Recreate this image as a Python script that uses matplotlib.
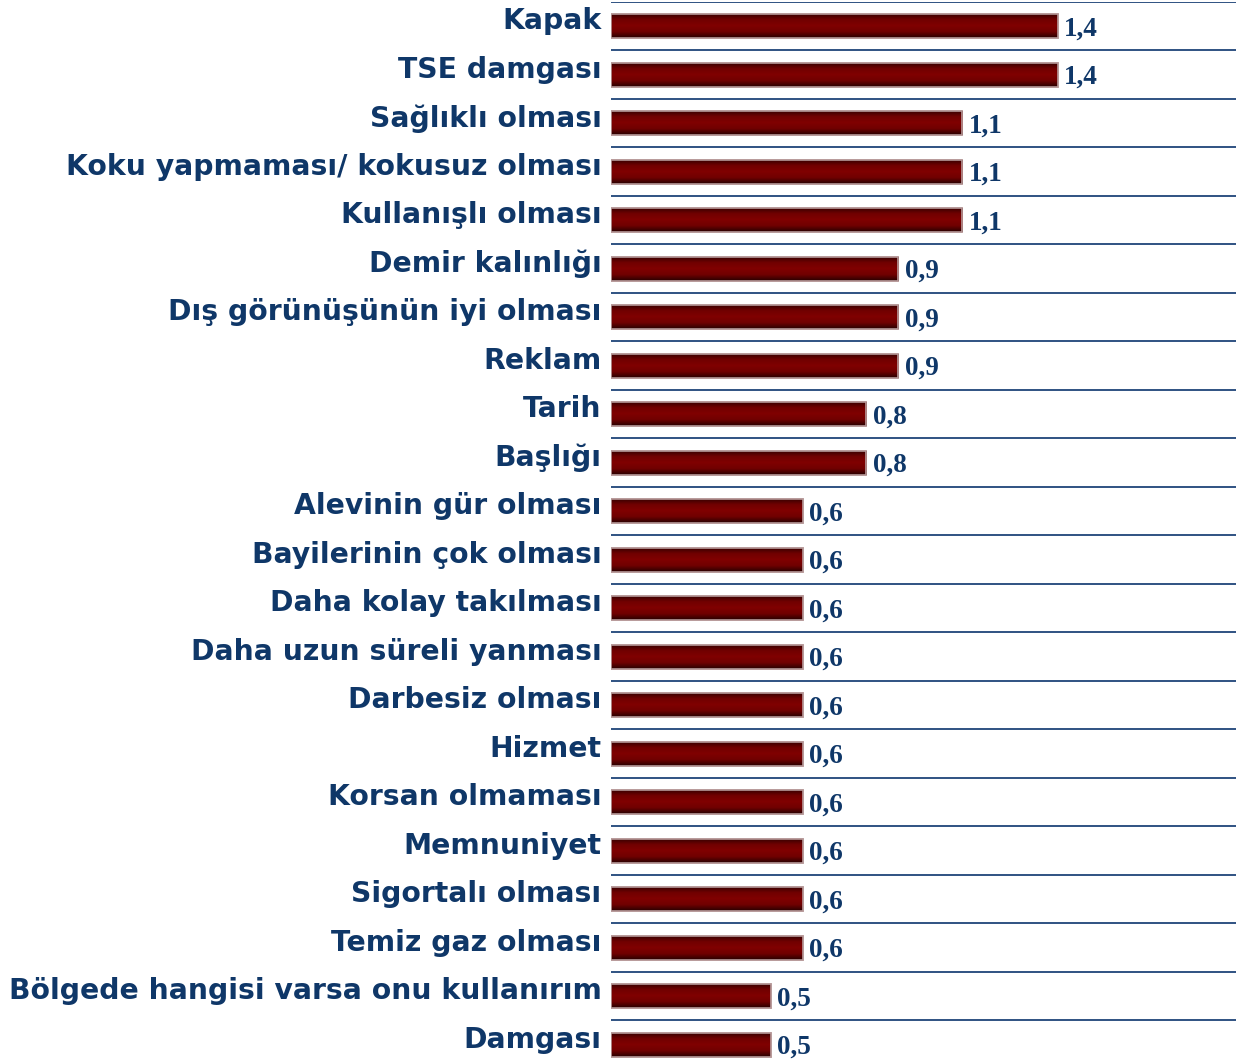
import matplotlib.pyplot as plt
import numpy as np
from matplotlib.colors import LinearSegmentedColormap

labels = ['Kapak', 'TSE damgası', 'Sağlıklı olması', 'Koku yapmaması/ kokusuz olması',
          'Kullanışlı olması', 'Demir kalınlığı', 'Dış görünüşünün iyi olması', 'Reklam',
          'Tarih', 'Başlığı', 'Alevinin gür olması', 'Bayilerinin çok olması',
          'Daha kolay takılması', 'Daha uzun süreli yanması', 'Darbesiz olması', 'Hizmet',
          'Korsan olmaması', 'Memnuniyet', 'Sigortalı olması', 'Temiz gaz olması',
          'Bölgede hangisi varsa onu kullanırım', 'Damgası']
values = [1.4, 1.4, 1.1, 1.1, 1.1, 0.9, 0.9, 0.9, 0.8, 0.8, 0.6, 0.6,
          0.6, 0.6, 0.6, 0.6, 0.6, 0.6, 0.6, 0.6, 0.5, 0.5]

navy = '#0f3768'
W, H = 1236, 1062
fig = plt.figure(figsize=(W / 100, H / 100), dpi=100)
ax = fig.add_axes([611 / W, 0, 625 / W, 1 - 2 / H])

y = np.arange(len(labels))
bars = ax.barh(y, values, height=0.5, color='#800000', edgecolor='#b89a9a', linewidth=1.2, zorder=2)

# vertical gradient in each bar: dark at top and bottom
cmap = LinearSegmentedColormap.from_list('bar', ['#300000', '#700000', '#800000', '#700000', '#280000'])
grad = np.linspace(0, 1, 64).reshape(-1, 1)
for b in bars:
    x0, y0, w, h = b.get_x(), b.get_y(), b.get_width(), b.get_height()
    im = ax.imshow(grad, cmap=cmap, aspect='auto', extent=[x0, x0 + w, y0 + h, y0],
                   zorder=3, interpolation='bilinear')
    im.set_clip_path(b)
    ax.add_patch(plt.Rectangle((x0, y0), w, h, fill=False, edgecolor='#b89a9a', linewidth=1.2, zorder=4))

for i, v in enumerate(values):
    ax.text(v + 0.02, i + 0.06, f'{v:.1f}'.replace('.', ','), va='center', ha='left',
            fontsize=19.5, fontweight='bold', family='Liberation Serif', color=navy)
    ax.text(-0.03, i - 0.1, labels[i], va='center', ha='right', fontsize=20.3,
            fontweight='bold', family='DejaVu Sans', color=navy)

for i in range(len(labels)):
    ax.axhline(i - 0.5, color='#1f4478', linewidth=1.3, zorder=1)

ax.set_xlim(0, 1.958)
ax.set_ylim(21.356, -0.5)
ax.axis('off')

fig.savefig('out.png', dpi=100)
